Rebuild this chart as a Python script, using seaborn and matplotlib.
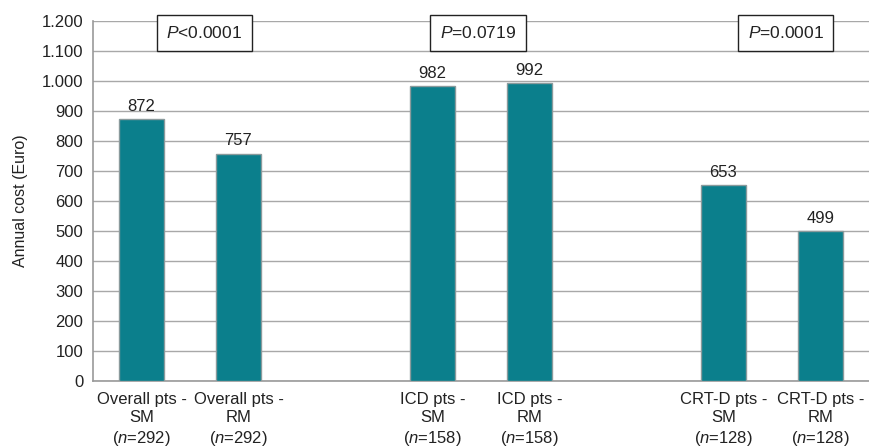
import matplotlib
matplotlib.use("Agg")
import matplotlib.pyplot as plt
import seaborn as sns
import pandas as pd

# Annual cost per patient group (Euro)
groups = ["Overall pts -\nSM\n($\\it{n}$=292)", "Overall pts -\nRM\n($\\it{n}$=292)",
          "ICD pts -\nSM\n($\\it{n}$=158)", "ICD pts -\nRM\n($\\it{n}$=158)",
          "CRT-D pts -\nSM\n($\\it{n}$=128)", "CRT-D pts -\nRM\n($\\it{n}$=128)"]
costs = [872, 757, 982, 992, 653, 499]
p_labels = ["$\\it{P}$<0.0001", "$\\it{P}$=0.0719", "$\\it{P}$=0.0001"]
p_xpos = [0.65, 3.47, 6.64]
yticks = [0, 100, 200, 300, 400, 500, 600, 700, 800, 900, 1000, 1100, 1200]
ytick_labels = ["0", "100", "200", "300", "400", "500", "600", "700", "800", "900",
                "1.000", "1.100", "1.200"]

sns.set_theme(style="white")
plt.rcParams["font.family"] = ["Liberation Sans", "DejaVu Sans"]
plt.rcParams["mathtext.fontset"] = "custom"
plt.rcParams["mathtext.rm"] = "Liberation Sans"
plt.rcParams["mathtext.it"] = "Liberation Sans:italic"

df = pd.DataFrame({"group": groups, "cost": costs})
order = [groups[0], groups[1], "gap1", groups[2], groups[3], "gap2", groups[4], groups[5]]

fig = plt.figure(figsize=(8.69, 4.47), dpi=100)
ax = fig.add_axes([0.107, 0.1477, 0.893, 0.8053])

sns.barplot(data=df, x="group", y="cost", order=order, color="#0b7f8c",
            saturation=1, width=0.465, edgecolor="#8a9a9c", linewidth=1.0,
            ax=ax, zorder=3)

for cont in ax.containers:
    ax.bar_label(cont, labels=[f"{v:.0f}" for v in cont.datavalues], padding=4,
                 fontsize=12, color="#222222")

ax.set_ylim(0, 1200)
ax.set_xlim(-0.5, 7.5)
ax.set_yticks(yticks)
ax.set_yticklabels(ytick_labels)
ax.yaxis.grid(True, color="#a8a8a8", linewidth=1.0, zorder=0)
ax.set_axisbelow(True)

ax.set_xticks(range(len(order)))
ax.set_xticklabels([g if not g.startswith("gap") else "" for g in order],
                   fontsize=12, linespacing=1.25)
ax.tick_params(axis="x", length=0, pad=8, colors="#222222")
ax.tick_params(axis="y", length=0, pad=7, labelsize=12, colors="#222222")

ax.set_xlabel("")
ax.set_ylabel("Annual cost (Euro)", fontsize=11.5, color="#222222", labelpad=10)

for side in ["top", "right"]:
    ax.spines[side].set_visible(False)
for side in ["left", "bottom"]:
    ax.spines[side].set_color("#999999")
    ax.spines[side].set_linewidth(1.2)

for x, lab in zip(p_xpos, p_labels):
    ax.text(x, 1160, lab, ha="center", va="center", fontsize=12.5, color="#222222",
            bbox=dict(boxstyle="square,pad=0.55", facecolor="white",
                      edgecolor="#222222", linewidth=1.0), zorder=5)

fig.savefig("out.png", dpi=100)
